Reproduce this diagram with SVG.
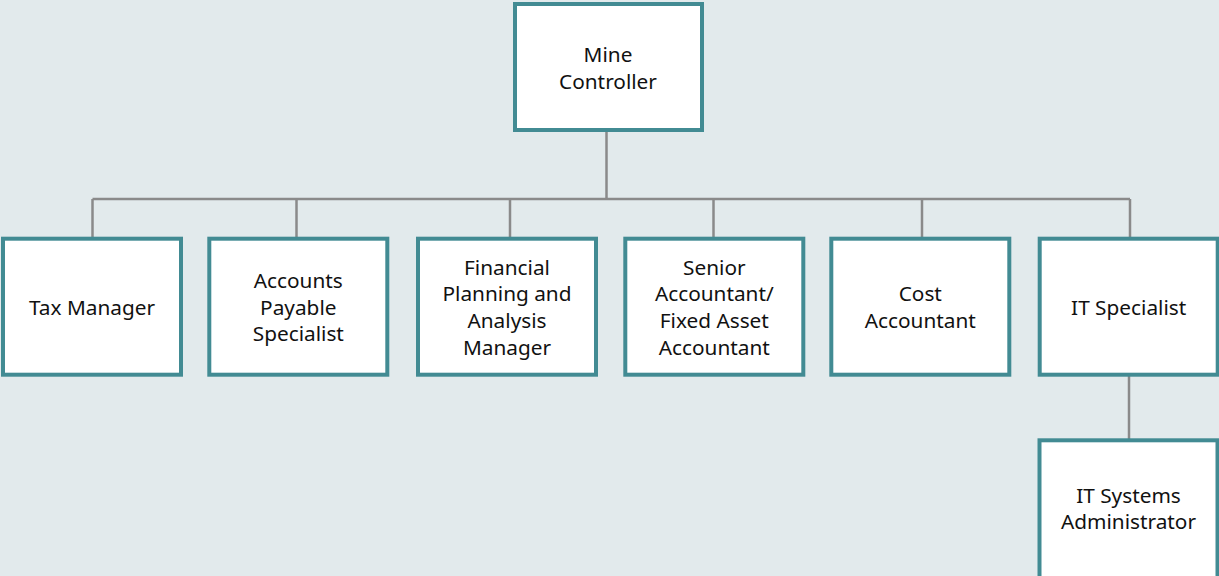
<svg xmlns="http://www.w3.org/2000/svg" width="1219" height="576" viewBox="0 0 1219 576">
<style>
.box{fill:#ffffff;stroke:#428b93;stroke-width:4}
.lbl{font-family:"Noto Sans",Lato,sans-serif;font-size:20.8px;fill:#111111;text-anchor:middle}
.conn{stroke:#8a8a8a;stroke-width:2.5;fill:none}
</style>
<rect x="0" y="0" width="1219" height="576" fill="#e2eaec"/>
<g id="connectors">
<path class="conn" d="M606.5 130 V199 M92.5 199 H1130 M92.5 199 V238 M296.5 199 V238 M510 199 V238 M713.5 199 V238 M922 199 V238 M1130 199 V238 M1129 375 V440"/>
</g>
<g id="mine-controller">
<rect class="box" x="515" y="4" width="187" height="126"/>
<text class="lbl" x="608" y="62">Mine</text>
<text class="lbl" x="608" y="88.5">Controller</text>
</g>
<g id="tax-manager">
<rect class="box" x="3" y="238.7" width="178" height="136"/>
<text class="lbl" x="92" y="314.7">Tax Manager</text>
</g>
<g id="accounts-payable">
<rect class="box" x="209.3" y="238.7" width="178" height="136"/>
<text class="lbl" x="298.3" y="288">Accounts</text>
<text class="lbl" x="298.3" y="314.7">Payable</text>
<text class="lbl" x="298.3" y="341.3">Specialist</text>
</g>
<g id="fpa-manager">
<rect class="box" x="418" y="238.7" width="178" height="136"/>
<text class="lbl" x="507" y="274.7">Financial</text>
<text class="lbl" x="507" y="301.3">Planning and</text>
<text class="lbl" x="507" y="328">Analysis</text>
<text class="lbl" x="507" y="354.7">Manager</text>
</g>
<g id="senior-accountant">
<rect class="box" x="625.3" y="238.7" width="178" height="136"/>
<text class="lbl" x="714.3" y="274.7">Senior</text>
<text class="lbl" x="714.3" y="301.3">Accountant/</text>
<text class="lbl" x="714.3" y="328">Fixed Asset</text>
<text class="lbl" x="714.3" y="354.7">Accountant</text>
</g>
<g id="cost-accountant">
<rect class="box" x="831.3" y="238.7" width="178" height="136"/>
<text class="lbl" x="920.3" y="301.3">Cost</text>
<text class="lbl" x="920.3" y="328">Accountant</text>
</g>
<g id="it-specialist">
<rect class="box" x="1039.7" y="238.7" width="178" height="136"/>
<text class="lbl" x="1128.7" y="314.7">IT Specialist</text>
</g>
<g id="it-systems-administrator">
<rect class="box" x="1039.5" y="440.3" width="178" height="140"/>
<text class="lbl" x="1128.5" y="503">IT Systems</text>
<text class="lbl" x="1128.5" y="529">Administrator</text>
</g>
</svg>
